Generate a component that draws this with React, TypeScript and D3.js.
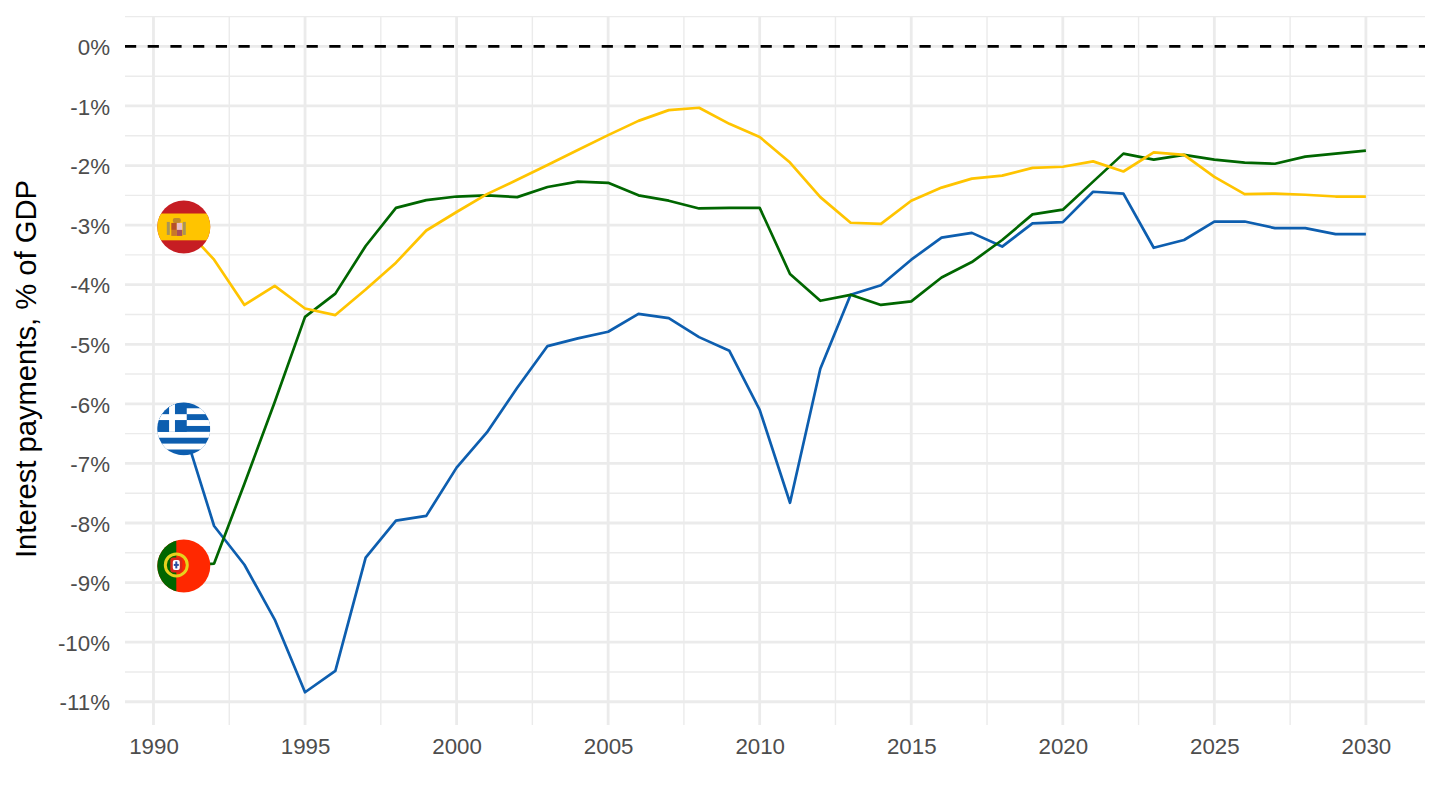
import { useEffect, useRef } from 'react';
import * as d3 from 'd3';

const years = d3.range(1991, 2031);

const spain = [
  -3.03, -3.58, -4.34, -4.02, -4.4, -4.51, -4.08, -3.63, -3.09, -2.78,
  -2.48, -2.24, -1.99, -1.74, -1.49, -1.25, -1.07, -1.03, -1.3, -1.52,
  -1.95, -2.53, -2.96, -2.98, -2.59, -2.37, -2.22, -2.17, -2.04, -2.02,
  -1.93, -2.1, -1.78, -1.82, -2.19, -2.48, -2.47, -2.49, -2.52, -2.52,
];
const portugal = [
  -8.72, -8.68, -7.34, -5.97, -4.54, -4.15, -3.35, -2.71, -2.58, -2.52,
  -2.5, -2.53, -2.36, -2.27, -2.29, -2.5, -2.59, -2.72, -2.71, -2.71,
  -3.82, -4.27, -4.17, -4.34, -4.28, -3.88, -3.62, -3.25, -2.82, -2.74,
  -2.27, -1.8, -1.9, -1.82, -1.9, -1.95, -1.97, -1.85, -1.8, -1.75,
];
const greece = [
  -6.42, -8.05, -8.7, -9.62, -10.84, -10.48, -8.58, -7.96, -7.88, -7.07,
  -6.48, -5.73, -5.03, -4.9, -4.79, -4.49, -4.56, -4.88, -5.11, -6.1,
  -7.66, -5.41, -4.17, -4.01, -3.58, -3.21, -3.13, -3.36, -2.97, -2.95,
  -2.44, -2.47, -3.38, -3.25, -2.94, -2.94, -3.05, -3.05, -3.15, -3.15,
];

const xMajor = d3.range(1990, 2031, 5);
const xMinor = d3.range(1992.5, 2031, 5);
const yMajor = d3.range(-11, 1, 1);
const yMinor = d3.range(-10.5, 0.6, 1);

const W = 1440;
const H = 810;
const M = { top: 16, right: 15, bottom: 85, left: 125 };

const GRID = '#EBEBEB';
const TICK = '#4D4D4D';
const BLUE = '#0D5EAF';
const GREEN = '#006600';
const YELLOW = '#FFC400';
const FONT = '"Liberation Sans", Arial, sans-serif';
const FLAG_R = 26.5;

type G = d3.Selection<SVGGElement, unknown, null, undefined>;

function box(f: G, x: number, y: number, w: number, h: number, fill: string) {
  return f.append('rect').attr('x', x).attr('y', y).attr('width', w).attr('height', h).attr('fill', fill);
}

function drawSpain(f: G) {
  box(f, -27, -27, 54, 54, '#C61D23');
  box(f, -27, -13.4, 54, 26.8, YELLOW);
  // coat of arms, very small
  box(f, -11, -9, 8, 5, '#C08A2A').attr('rx', 2);
  box(f, -12.5, -4, 5.5, 7, '#B5502A');
  box(f, -7, -4, 5.5, 7, '#E8BFC8');
  box(f, -12.5, 3, 5.5, 6, '#C8782A');
  box(f, -7, 3, 5.5, 6, '#A8505A');
  box(f, -17, -5, 3, 13, '#A89458');
  box(f, -1, -5, 3, 13, '#A89458');
}

function drawGreece(f: G) {
  const s = (2 * FLAG_R) / 9;
  box(f, -FLAG_R, -FLAG_R, 2 * FLAG_R, 2 * FLAG_R, BLUE);
  [1, 3, 5, 7].forEach(i => {
    box(f, -FLAG_R, -FLAG_R + i * s, 2 * FLAG_R, s, '#fff');
  });
  box(f, -FLAG_R, -FLAG_R, 5 * s, 5 * s, BLUE);
  box(f, -FLAG_R, -FLAG_R + 2 * s, 5 * s, s, '#fff');
  box(f, -FLAG_R + 2 * s, -FLAG_R, s, 5 * s, '#fff');
}

function drawPortugal(f: G) {
  box(f, -27, -27, 54, 54, '#FF2800');
  box(f, -27, -27, 19.5, 54, GREEN);
  f.append('circle').attr('cx', -7.5).attr('cy', -1).attr('r', 11).attr('fill', 'none').attr('stroke', '#E6D21E').attr('stroke-width', 3);
  box(f, -13.5, -8.5, 12, 15, '#D8261C').attr('rx', 3);
  box(f, -11, -6, 7, 10, '#fff').attr('rx', 2);
  box(f, -8.5, -4.5, 2, 7, '#2A4FA0');
  box(f, -10, -2, 5, 2, '#2A4FA0');
}

export default function App() {
  const svgRef = useRef<SVGSVGElement>(null);

  useEffect(() => {
    if (!svgRef.current) return;
    document.body.style.margin = '0';

    const svg = d3.select(svgRef.current);
    svg.selectAll('*').remove();

    const iW = W - M.left - M.right;
    const iH = H - M.top - M.bottom;

    const xScale = d3.scaleLinear([1989.06, 2031.95], [0, iW]);
    const yScale = d3.scaleLinear([-11.39, 0.51], [iH, 0]);

    const g = svg.append('g').attr('transform', `translate(${M.left},${M.top})`);

    // Grid
    yMinor.forEach(v => {
      g.append('line').attr('x1', 0).attr('x2', iW).attr('y1', yScale(v)).attr('y2', yScale(v))
        .attr('stroke', GRID).attr('stroke-width', 1.4);
    });
    xMinor.forEach(v => {
      g.append('line').attr('y1', 0).attr('y2', iH).attr('x1', xScale(v)).attr('x2', xScale(v))
        .attr('stroke', GRID).attr('stroke-width', 1.4);
    });
    yMajor.forEach(v => {
      g.append('line').attr('x1', 0).attr('x2', iW).attr('y1', yScale(v)).attr('y2', yScale(v))
        .attr('stroke', GRID).attr('stroke-width', 2.8);
    });
    xMajor.forEach(v => {
      g.append('line').attr('y1', 0).attr('y2', iH).attr('x1', xScale(v)).attr('x2', xScale(v))
        .attr('stroke', GRID).attr('stroke-width', 2.8);
    });

    // Zero line
    g.append('line').attr('x1', 0).attr('x2', iW).attr('y1', yScale(0)).attr('y2', yScale(0))
      .attr('stroke', '#000').attr('stroke-width', 2.6).attr('stroke-dasharray', '11.2 11.5');

    // Series
    const line = d3.line<number>().x((_, i) => xScale(years[i])).y(v => yScale(v));
    [
      { values: greece, color: BLUE },
      { values: portugal, color: GREEN },
      { values: spain, color: YELLOW },
    ].forEach(s => {
      g.append('path').attr('fill', 'none').attr('stroke', s.color).attr('stroke-width', 2.7)
        .attr('stroke-linejoin', 'round').attr('d', line(s.values) ?? '');
    });

    // Flags sit on the first data point
    const defs = svg.append('defs');
    defs.append('clipPath').attr('id', 'flag-clip').append('circle').attr('r', FLAG_R);
    [
      { value: spain[0], draw: drawSpain },
      { value: greece[0], draw: drawGreece },
      { value: portugal[0], draw: drawPortugal },
    ].forEach(fl => {
      const f = g.append('g')
        .attr('transform', `translate(${xScale(years[0])},${yScale(fl.value)})`)
        .append('g').attr('clip-path', 'url(#flag-clip)');
      fl.draw(f as unknown as G);
    });

    // Axes
    g.append('g')
      .attr('transform', `translate(0,${iH})`)
      .call(d3.axisBottom(xScale).tickValues(xMajor).tickSize(0).tickPadding(13.5).tickFormat(d => String(d)))
      .call(a => {
        a.select('.domain').remove();
        a.selectAll('text').attr('fill', TICK).attr('font-size', 22.3).attr('font-family', FONT);
      });

    g.append('g')
      .attr('transform', 'translate(0,1)')
      .call(d3.axisLeft(yScale).tickValues(yMajor).tickSize(0).tickPadding(15).tickFormat(d => `${d}%`))
      .call(a => {
        a.select('.domain').remove();
        a.selectAll('text').attr('fill', TICK).attr('font-size', 22.3).attr('font-family', FONT);
      });

    // Y title
    svg.append('text')
      .attr('transform', `translate(36,369) rotate(-90)`)
      .attr('text-anchor', 'middle')
      .attr('font-size', 29.2)
      .attr('font-family', FONT)
      .attr('fill', '#000')
      .text('Interest payments, % of GDP');
  }, []);

  return <svg ref={svgRef} width={W} height={H} style={{ display: 'block', background: '#fff' }} />;
}
